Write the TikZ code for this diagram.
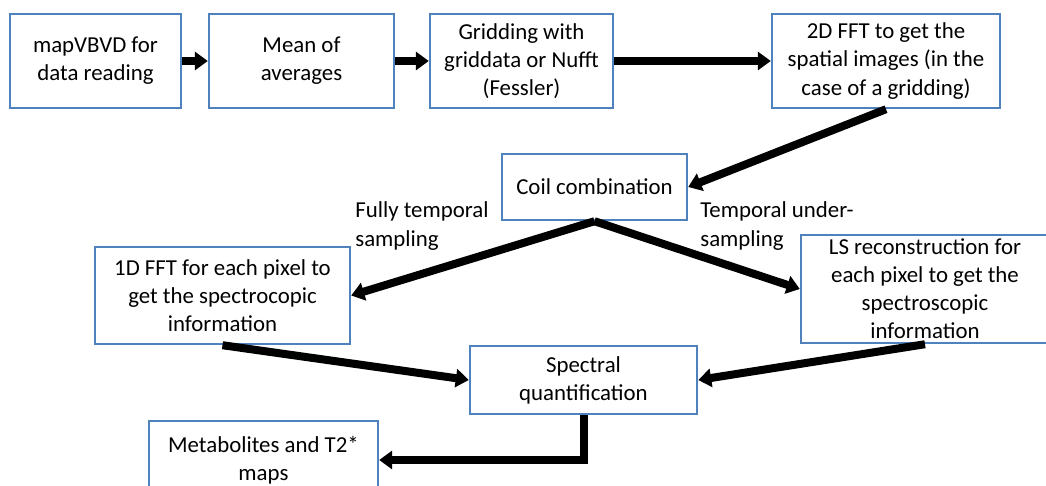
\documentclass[tikz,border=0pt]{standalone}
\usepackage{fontspec}
\setmainfont{Carlito}
\usepackage{tikz}
\usetikzlibrary{arrows.meta, positioning, calc}

\definecolor{boxblue}{HTML}{4F81BD}

\begin{document}
\begin{tikzpicture}[
    x=0.02cm, y=-0.02cm,
    stage/.style={draw=boxblue, line width=1.4pt, align=center, inner sep=2pt,
                  font=\fontsize{13}{16}\selectfont},
    lbl/.style={align=left, anchor=west, inner sep=0pt,
                font=\fontsize{13}{16}\selectfont},
    flow/.style={line width=0.16cm, -{Triangle[length=0.26cm,width=0.36cm]}}
]
    \useasboundingbox (0,0) rectangle (1046,486);

    \node[stage, minimum width=3.42cm, minimum height=1.88cm] (read) at (95.5,61)  {mapVBVD for\\data reading};
    \node[stage, minimum width=3.70cm, minimum height=1.88cm] (mean) at (301.5,61) {Mean of\\averages};
    \node[stage, minimum width=3.66cm, minimum height=1.88cm] (grid) at (521.5,61) {Gridding with\\griddata or Nufft\\(Fessler)};
    \node[stage, minimum width=4.56cm, minimum height=1.88cm] (fft2) at (886,61)   {2D FFT to get the\\spatial images (in the\\case of a gridding)};
    \node[stage, minimum width=3.70cm, minimum height=1.32cm] (coil) at (594.5,187) {Coil combination};
    \node[stage, minimum width=5.10cm, minimum height=1.94cm] (fft1) at (222.5,295.5) {1D FFT for each pixel to\\get the spectrocopic\\information};
    \node[stage, minimum width=4.96cm, minimum height=2.16cm] (lsrec) at (925,289) {LS reconstruction for\\each pixel to get the\\spectroscopic\\information};
    \node[stage, minimum width=4.54cm, minimum height=1.36cm] (quant) at (583.5,380) {Spectral\\quantification};
    \node[stage, minimum width=4.58cm, minimum height=1.56cm] (maps) at (263.5,460) {Metabolites and T2*\\maps};

    \node[lbl] (full) at (355,226) {Fully temporal\\sampling};
    \node[lbl] (under) at (700,226) {Temporal under-\\sampling};

    \draw[flow] (read) -- (mean);
    \draw[flow] (mean) -- (grid);
    \draw[flow] (grid) -- (fft2);
    \draw[flow] (fft2.south) -- (coil.east);
    \draw[flow] (coil.south) -- (fft1.east);
    \draw[flow] (coil.south) -- (lsrec.west);
    \draw[flow] (fft1.south) -- (quant.west);
    \draw[flow] (lsrec.south) -- (quant.east);
    \draw[flow] (quant.south) |- (maps.east);
\end{tikzpicture}
\end{document}
